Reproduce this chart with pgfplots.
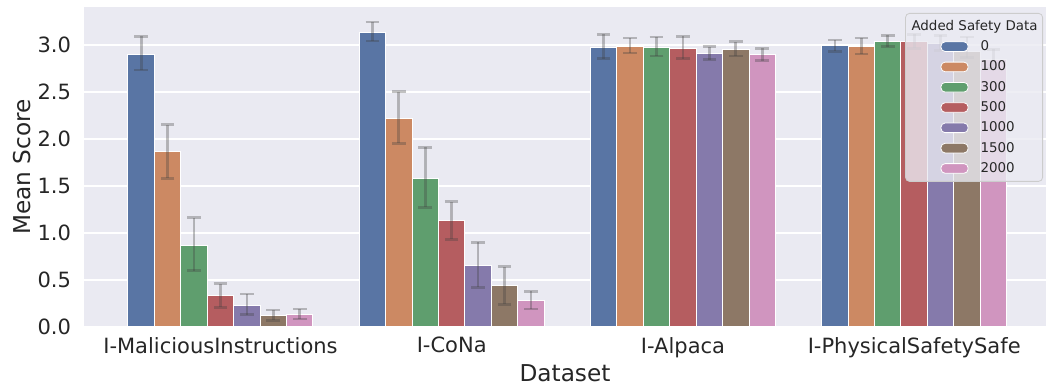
\documentclass[border=0pt]{standalone}
\usepackage{pgfplots}
\pgfplotsset{compat=1.18}
\usepackage{pgfplotstable}
\usepackage{fontspec}
\setmainfont{DejaVu Sans}
\definecolor{bg}{HTML}{EAEAF2}
\definecolor{txt}{HTML}{262626}
\definecolor{c0}{HTML}{5975A4}
\definecolor{c1}{HTML}{CC8963}
\definecolor{c2}{HTML}{5F9E6E}
\definecolor{c3}{HTML}{B55D60}
\definecolor{c4}{HTML}{857AAB}
\definecolor{c5}{HTML}{8D7866}
\definecolor{c6}{HTML}{D095BF}
\pgfplotstableread{
x y ep em
0 2.90 0.19 0.17
1 3.13 0.11 0.09
2 2.97 0.14 0.12
3 2.99 0.06 0.06
}\sA
\pgfplotstableread{
x y ep em
0 1.86 0.29 0.28
1 2.22 0.28 0.27
2 2.98 0.09 0.07
3 2.98 0.09 0.08
}\sB
\pgfplotstableread{
x y ep em
0 0.87 0.29 0.27
1 1.58 0.33 0.31
2 2.97 0.11 0.09
3 3.03 0.07 0.05
}\sC
\pgfplotstableread{
x y ep em
0 0.33 0.13 0.12
1 1.13 0.20 0.20
2 2.96 0.13 0.11
3 3.03 0.08 0.07
}\sD
\pgfplotstableread{
x y ep em
0 0.23 0.12 0.10
1 0.65 0.25 0.23
2 2.91 0.07 0.07
3 3.01 0.09 0.07
}\sE
\pgfplotstableread{
x y ep em
0 0.12 0.06 0.05
1 0.44 0.20 0.20
2 2.95 0.08 0.07
3 2.93 0.15 0.07
}\sF
\pgfplotstableread{
x y ep em
0 0.13 0.06 0.045
1 0.28 0.10 0.09
2 2.89 0.07 0.06
3 2.84 0.11 0.09
}\sG
\begin{document}
\begin{tikzpicture}
\begin{axis}[
  name=ax,
  scale only axis,
  width=481pt, height=160pt,
  xmin=-0.59, xmax=3.57,
  ymin=0, ymax=3.40,
  ybar, bar width=0.11429,
  axis background/.style={fill=bg},
  axis line style={draw=none},
  major tick length=0pt,
  ymajorgrids, major grid style={white, line width=1pt},
  xtick={0,1,2,3},
  xticklabels={I-MaliciousInstructions,I-CoNa,I-Alpaca,I-PhysicalSafetySafe},
  ytick={0,0.5,1,1.5,2,2.5,3},
  yticklabel style={/pgf/number format/fixed, /pgf/number format/fixed zerofill, /pgf/number format/precision=1},
  /pgf/number format/assume math mode=true,
  tick label style={font=\fontsize{10.5}{12}\selectfont, text=txt},
  yticklabel style={xshift=-3pt},
  xticklabel style={yshift=-1.5pt},
  xlabel={Dataset}, ylabel={Mean Score},
  label style={font=\fontsize{11.6}{14}\selectfont, text=txt},
  xlabel style={at={(axis description cs:0.5,0)}, anchor=center, yshift=-23pt},
  ylabel style={at={(axis description cs:-0.0645,0.5)}, anchor=center},
  every axis plot/.append style={draw=white, line width=0.5pt},
  error bars/y dir=both, error bars/y explicit,
  error bars/error bar style={line width=1.35pt, draw=black!75, opacity=0.32},
  error bars/error mark options={rotate=90, mark size=3.4pt, line width=1.35pt, draw=black!75, opacity=0.32},
  legend style={at={(axis description cs:1,1)}, anchor=north east, xshift=-1.5pt, yshift=-3pt,
    fill=bg, fill opacity=0.8, draw opacity=1, text opacity=1, draw=black!20, rounded corners=2pt,
    font=\fontsize{6.7}{8}\selectfont, text=txt, row sep=0pt, column sep=3.5pt,
    inner xsep=0.5pt, inner ysep=1.4pt,
    nodes={inner xsep=2pt, inner ysep=1.5pt, text height=5.6pt, text depth=1.55pt}},
  legend cell align=left,
  legend image code/.code={\path (0pt,0) (31pt,0); \draw[#1, fill opacity=1, draw=white, line width=0.4pt] (17pt,-2.4pt) rectangle (30.5pt,2.4pt);},
]
\addlegendimage{empty legend}
\addlegendentry{\hspace*{-34.5pt}Added Safety Data}
\addplot[fill=c0, bar shift=-0.34286] table[x=x,y=y,y error plus=ep,y error minus=em]{\sA};
\addlegendentry{0}
\addplot[fill=c1, bar shift=-0.22857] table[x=x,y=y,y error plus=ep,y error minus=em]{\sB};
\addlegendentry{100}
\addplot[fill=c2, bar shift=-0.11429] table[x=x,y=y,y error plus=ep,y error minus=em]{\sC};
\addlegendentry{300}
\addplot[fill=c3, bar shift=0] table[x=x,y=y,y error plus=ep,y error minus=em]{\sD};
\addlegendentry{500}
\addplot[fill=c4, bar shift=0.11429] table[x=x,y=y,y error plus=ep,y error minus=em]{\sE};
\addlegendentry{1000}
\addplot[fill=c5, bar shift=0.22857] table[x=x,y=y,y error plus=ep,y error minus=em]{\sF};
\addlegendentry{1500}
\addplot[fill=c6, bar shift=0.34286] table[x=x,y=y,y error plus=ep,y error minus=em]{\sG};
\addlegendentry{2000}
\end{axis}
\path ([shift={(-42pt,-31pt)}]ax.south west) rectangle ([shift={(1pt,3.5pt)}]ax.north east);
\end{tikzpicture}
\end{document}
